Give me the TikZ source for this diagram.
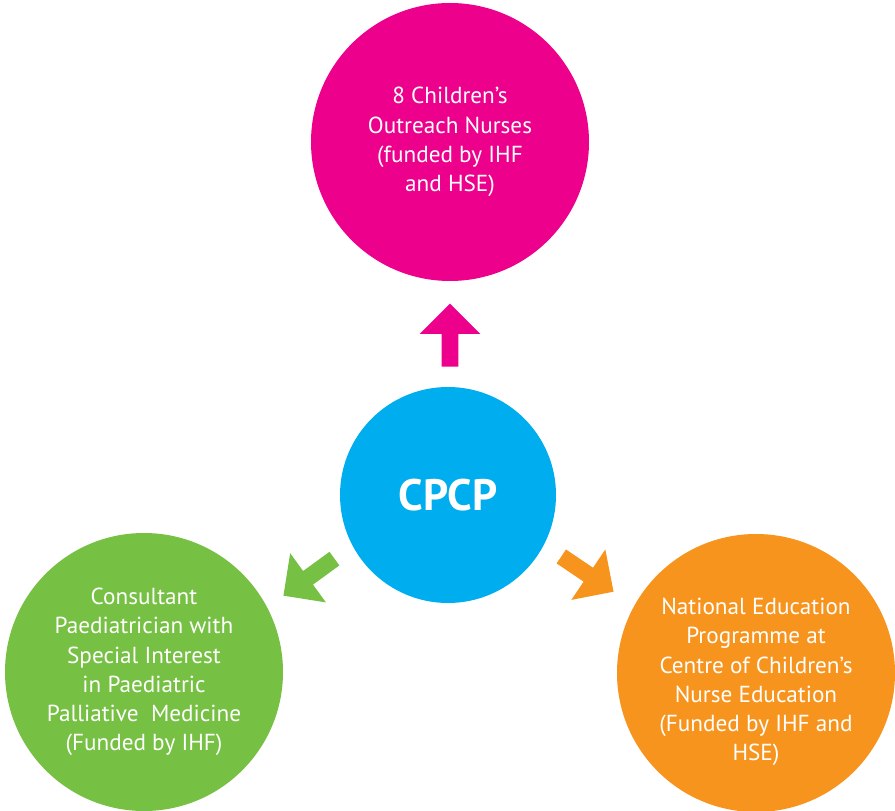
\documentclass[tikz,border=0pt]{standalone}
\usepackage{fontspec}
\setmainfont{PT Sans}
\usetikzlibrary{shapes.arrows}
\definecolor{cpcpblue}{HTML}{00AEEF}
\definecolor{nursepink}{HTML}{EC008C}
\definecolor{consgreen}{HTML}{76C043}
\definecolor{eduorange}{HTML}{F7941D}
\begin{document}
\begin{tikzpicture}[x=0.5pt,y=0.5pt,
            bubble/.style={circle,minimum size=139pt,inner sep=0pt,text=white,align=center,
                font=\fontsize{11.6}{14.6}\selectfont},
            fatarrow/.style={single arrow,draw=none,minimum height=31.5pt,inner xsep=0pt,inner ysep=4pt,
                single arrow head extend=11pt,single arrow head indent=0pt,anchor=tip}]
             \useasboundingbox (0,0) rectangle (895,810);
             \node[bubble,fill=cpcpblue,minimum size=108pt,font=\fontsize{22}{26}\selectfont\bfseries] (cpcp) at (448,315) {CPCP};
             \node[bubble,fill=nursepink] (nurses) at (450,668) {8 Children’s\\Outreach Nurses\\(funded by IHF\\and HSE)};
             \node[bubble,fill=consgreen] (consultant) at (144,138) {Consultant\\Paediatrician with\\Special Interest\\in Paediatric\\Palliative\ \ Medicine\\(Funded by IHF)};
             \node[bubble,fill=eduorange] (education) at (756,137) {};
             \node[bubble,minimum size=0pt] (edutext) at ([yshift=-4.5pt]education.center) {National Education\\Programme at\\Centre of Children’s\\Nurse Education\\(Funded by IHF and\\HSE)};
             % arrows out of the centre
             \node[fatarrow,fill=nursepink,rotate=90]  (tonurses) at (450,507) {};
             \node[fatarrow,fill=consgreen,rotate=216] (toconsultant) at (283,214) {};
             \node[fatarrow,fill=eduorange,rotate=-34] (toeducation) at (614,218) {};
        \end{tikzpicture}
\end{document}
